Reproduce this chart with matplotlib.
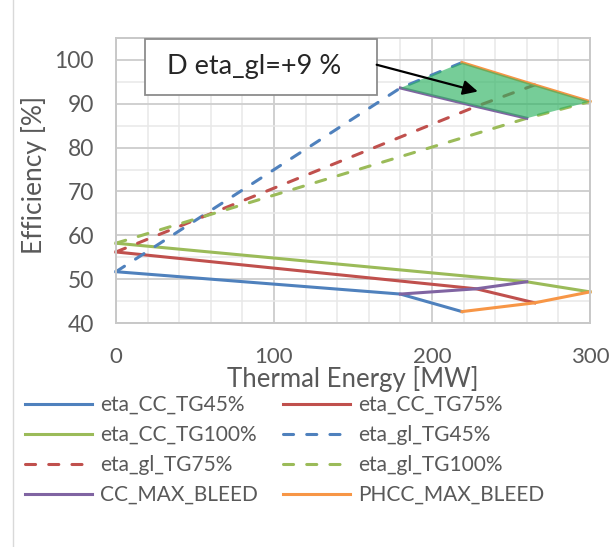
import matplotlib
matplotlib.use("Agg")
import matplotlib.pyplot as plt
import numpy as np
from matplotlib.patches import Polygon, Rectangle
from matplotlib.lines import Line2D

plt.rcParams['font.family'] = ['Lato', 'DejaVu Sans']

# ---- data ----
cc45_x = [0, 180, 219]
cc45_y = [51.7, 46.6, 42.6]
cc75_x = [0, 228, 265]
cc75_y = [56.2, 47.8, 44.6]
cc100_x = [0, 260, 300]
cc100_y = [58.2, 49.4, 47.1]

gl45_x = [0, 180, 219]
gl45_y = [51.7, 93.6, 99.4]
gl75_x = [0, 228, 265]
gl75_y = [56.2, 89.4, 94.3]
gl100_x = [0, 260, 300]
gl100_y = [58.2, 86.7, 90.5]

ccmax_x = [180, 228, 260, np.nan, 180, 228, 260]
ccmax_y = [46.6, 47.8, 49.4, np.nan, 93.6, 89.4, 86.7]
phcc_x = [219, 265, 300, np.nan, 219, 265, 300]
phcc_y = [42.6, 44.6, 47.1, np.nan, 99.4, 94.3, 90.5]

annot_text = "D eta_gl=+9 %"

x_ticks = [0, 100, 200, 300]
y_ticks = [40, 50, 60, 70, 80, 90, 100]

# ---- styling ----
BLUE = '#4F81BD'
RED = '#C0504D'
GREEN = '#9BBB59'
PURPLE = '#8064A2'
ORANGE = '#F79646'
TXT = '#595959'
LW = 2.2
DASH = (3.3, 4.3)

fig = plt.figure(figsize=(6.09, 5.47), dpi=100)
ax = fig.add_axes([116/609, 1-323/547, (590-116)/609, (323-38)/547])

ax.set_xlim(0, 300)
ax.set_ylim(40, 105)
ax.set_xticks(x_ticks)
ax.set_yticks(y_ticks)
ax.set_xticks(np.arange(0, 301, 20), minor=True)
ax.set_yticks(np.arange(40, 106, 5), minor=True)
ax.grid(which='major', color='#d0d0d0', lw=1.4)
ax.grid(which='minor', color='#e8e8e8', lw=1.1)
ax.set_axisbelow(True)
ax.tick_params(which='both', length=0)
ax.tick_params(axis='y', pad=16, labelsize=16.5, labelcolor=TXT)
ax.tick_params(axis='x', pad=17.5, labelsize=16, labelcolor=TXT)
for s in ax.spines.values():
    s.set_color('#c8c8c8')
    s.set_linewidth(1.4)

def dline(x, y, c, label):
    l, = ax.plot(x, y, color=c, lw=LW, dashes=DASH, label=label,
                 dash_capstyle='round')
    return l

l1, = ax.plot(cc45_x, cc45_y, color=BLUE, lw=LW, label='eta_CC_TG45%')
l2, = ax.plot(cc75_x, cc75_y, color=RED, lw=LW, label='eta_CC_TG75%')
l3, = ax.plot(cc100_x, cc100_y, color=GREEN, lw=LW, label='eta_CC_TG100%')
l4 = dline(gl45_x, gl45_y, BLUE, 'eta_gl_TG45%')
l5 = dline(gl75_x, gl75_y, RED, 'eta_gl_TG75%')
l6 = dline(gl100_x, gl100_y, GREEN, 'eta_gl_TG100%')
l7, = ax.plot(ccmax_x, ccmax_y, color=PURPLE, lw=LW, label='CC_MAX_BLEED')
l8, = ax.plot(phcc_x, phcc_y, color=ORANGE, lw=LW, label='PHCC_MAX_BLEED')
for l in (l1, l2, l3, l4, l5, l6, l7, l8):
    l.set_clip_on(False)

# green shaded gain region
poly = list(zip(gl45_x[1:], gl45_y[1:])) + list(zip(phcc_x[5:], phcc_y[5:])) \
    + [(gl100_x[1], gl100_y[1])] + list(zip(ccmax_x[4:][::-1], ccmax_y[4:][::-1]))
ax.add_patch(Polygon(poly, closed=True, facecolor='#2fb463', alpha=0.66,
                     edgecolor='none', zorder=5))

# annotation box + arrow
ax.add_patch(Rectangle((18.4, 92.0), 146.6, 12.8, facecolor='white',
                       edgecolor='#8c8c8c', lw=1.3, zorder=6, clip_on=False))
ax.text(32, 98.4, annot_text, fontsize=19.5, color='#262626', va='center',
        ha='left', zorder=7)
ax.annotate('', xy=(229, 92.8), xytext=(165, 98.9),
            arrowprops=dict(arrowstyle='-|>', color='black', lw=1.6,
                            mutation_scale=22, shrinkA=0, shrinkB=0),
            zorder=8)

ax.set_xlabel('Thermal Energy [MW]', fontsize=18.5, color=TXT, labelpad=-1)
ax.set_ylabel('Efficiency [%]', fontsize=19, color=TXT)
ax.yaxis.set_label_coords(-0.146, 0.52)

handles = [l1, l3, l5, l7, l2, l4, l6, l8]
fig.legend(handles=handles, labels=[h.get_label() for h in handles],
           loc='upper left', bbox_to_anchor=(25/609, 1-395/547), ncol=2,
           frameon=False, fontsize=15, labelcolor=TXT, handlelength=3.2,
           handletextpad=0.4, labelspacing=0.48, columnspacing=1.2,
           borderpad=0, borderaxespad=0)

fig.add_artist(Line2D([13/609, 13/609], [0, 1], color='#d9d9d9', lw=1,
                      transform=fig.transFigure))

fig.savefig('out.png', dpi=100)
